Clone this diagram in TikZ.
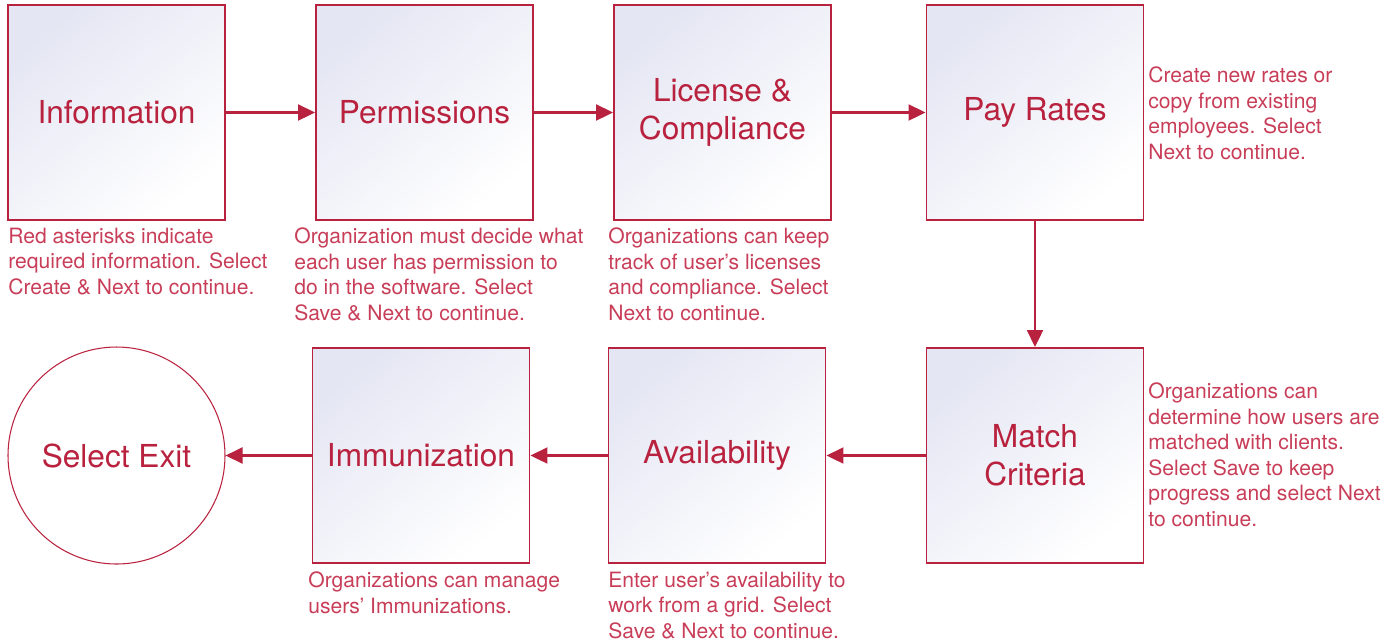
\documentclass[tikz,border=0pt]{standalone}
\usepackage{fontspec}
\setmainfont{TeX Gyre Heros}
\usetikzlibrary{arrows.meta}
\definecolor{crim}{RGB}{185,34,62}
\definecolor{desc}{RGB}{200,62,88}
\definecolor{boxtop}{RGB}{228,230,243}
\tikzset{
  stepbox/.style={draw=crim, line width=1.1pt, minimum width=4.34cm, minimum height=4.3cm,
    top color=boxtop, bottom color=white, shading angle=40,
    text=crim, font=\fontsize{18}{21.5}\selectfont, align=center, inner sep=0pt},
  note/.style={anchor=north west, inner sep=0pt, align=left, text=desc,
    font=\fontsize{12}{14.5}\selectfont},
}
\begin{document}
\begin{tikzpicture}[>={Triangle[length=0.34cm,width=0.32cm]}]
      \useasboundingbox (0,0) rectangle (27.78,-12.86);
      % top row
      \node[stepbox] (info) at (2.33,-2.25) {Information};
      \node[stepbox] (perm) at (8.49,-2.25) {Permissions};
      \node[stepbox] (lic) at (14.45,-2.25) {License \&\\Compliance};
      \node[stepbox] (pay) at (20.70,-2.25) {Pay Rates};
      % bottom row
      \node[stepbox] (match) at (20.70,-9.11) {Match\\Criteria};
      \node[stepbox] (avail) at (14.34,-9.11) {Availability};
      \node[stepbox] (immun) at (8.42,-9.11) {Immunization};
      \node[draw=crim, line width=0.6pt, circle, minimum size=4.34cm, inner sep=0pt,
        text=crim, font=\fontsize{18}{21.5}\selectfont] (exit) at (2.33,-9.11) {Select Exit};
      % notes
      \node[note] (ninfo) at (0.16,-4.55) {Red asterisks indicate\\required information. Select\\Create \& Next to continue.};
      \node[note] (nperm) at (5.88,-4.55) {Organization must decide what\\each user has permission to\\do in the software. Select\\Save \& Next to continue.};
      \node[note] (nlic) at (12.16,-4.55) {Organizations can keep\\track of user's licenses\\and compliance. Select\\Next to continue.};
      \node[note] (npay) at (22.96,-1.33) {Create new rates or\\copy from existing\\employees. Select\\Next to continue.};
      \node[note] (nmatch) at (22.96,-7.65) {Organizations can\\determine how users are\\matched with clients.\\Select Save to keep\\progress and select Next\\to continue.};
      \node[note] (navail) at (12.16,-11.43) {Enter user's availability to\\work from a grid. Select\\Save \& Next to continue.};
      \node[note] (nimmun) at (6.16,-11.43) {Organizations can manage\\users' Immunizations.};
      % arrows
      \draw [->, crim, line width=1.2pt] (info) -- (perm);
      \draw [->, crim, line width=1.2pt] (perm) -- (lic);
      \draw [->, crim, line width=1.2pt] (lic) -- (pay);
      \draw [->, crim, line width=1.2pt] (pay) -- (match);
      \draw [->, crim, line width=1.2pt] (match) -- (avail);
      \draw [->, crim, line width=1.2pt] (avail) -- (immun);
      \draw [->, crim, line width=1.2pt] (immun) -- (exit);
\end{tikzpicture}
\end{document}
